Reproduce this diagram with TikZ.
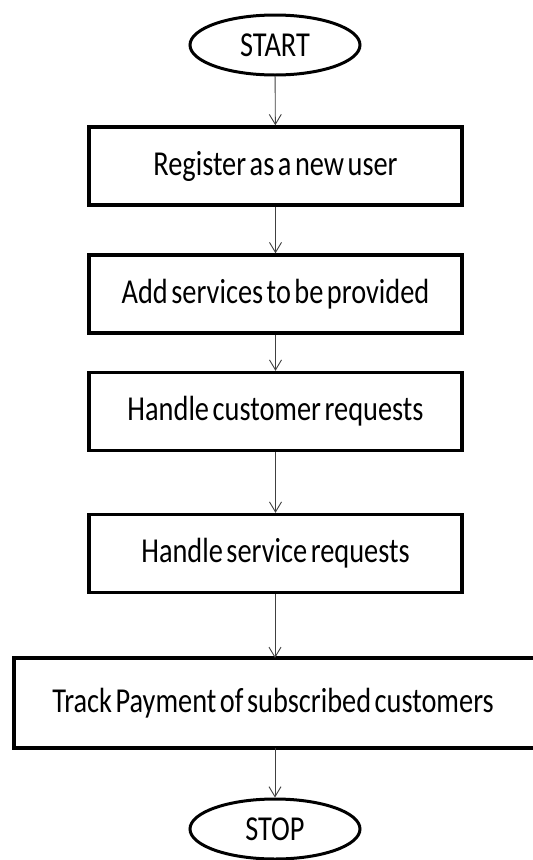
\documentclass[tikz,border=0pt]{standalone}
\usepackage{fontspec}
\setmainfont{Carlito}[FakeStretch=0.81,WordSpace=0.55]
\usetikzlibrary{shapes.geometric,arrows.meta}
\begin{document}
\begin{tikzpicture}[x=1pt,y=-1pt,
  stepbox/.style={draw=black,line width=3.5pt,rectangle,minimum height=78pt,inner sep=0pt,font=\fontsize{35}{40}\selectfont},
  term/.style={draw=black,line width=3pt,ellipse,minimum width=170pt,minimum height=60pt,inner sep=0pt,font=\fontsize{35}{40}\selectfont},
  flow/.style={draw=black!75,line width=0.9pt,-{Straight Barb[length=10pt,width=12pt,line width=0.9pt]}}]
\useasboundingbox (0,0) rectangle (533,860);
\fill[white] (0,0) rectangle (533,860);
\clip (0,0) rectangle (533,860);
\node[term] (start) at (275,45) {START};
\node[stepbox,minimum width=373pt] (b1) at (275.5,166) {Register as a new user};
\node[stepbox,minimum width=373pt] (b2) at (275.5,294) {Add services to be provided};
\node[stepbox,minimum width=373pt] (b3) at (275.5,411.5) {Handle customer requests};
\node[stepbox,minimum width=373pt] (b4) at (275.5,553.5) {Handle service requests};
\node[stepbox,minimum width=540pt,minimum height=90pt] (b5) at (284,703) {\hspace*{-22pt}Track Payment of subscribed customers};
\node[term] (stop) at (275,829) {STOP};
\draw[flow] (start) -- (b1);
\draw[flow] (b1) -- (b2);
\draw[flow] (b2) -- (b3);
\draw[flow] (b3) -- (b4);
\draw[flow] (b4.south -| 275,0) -- (275,658);
\draw[flow] (275,748) -- (stop);
\end{tikzpicture}
\end{document}
